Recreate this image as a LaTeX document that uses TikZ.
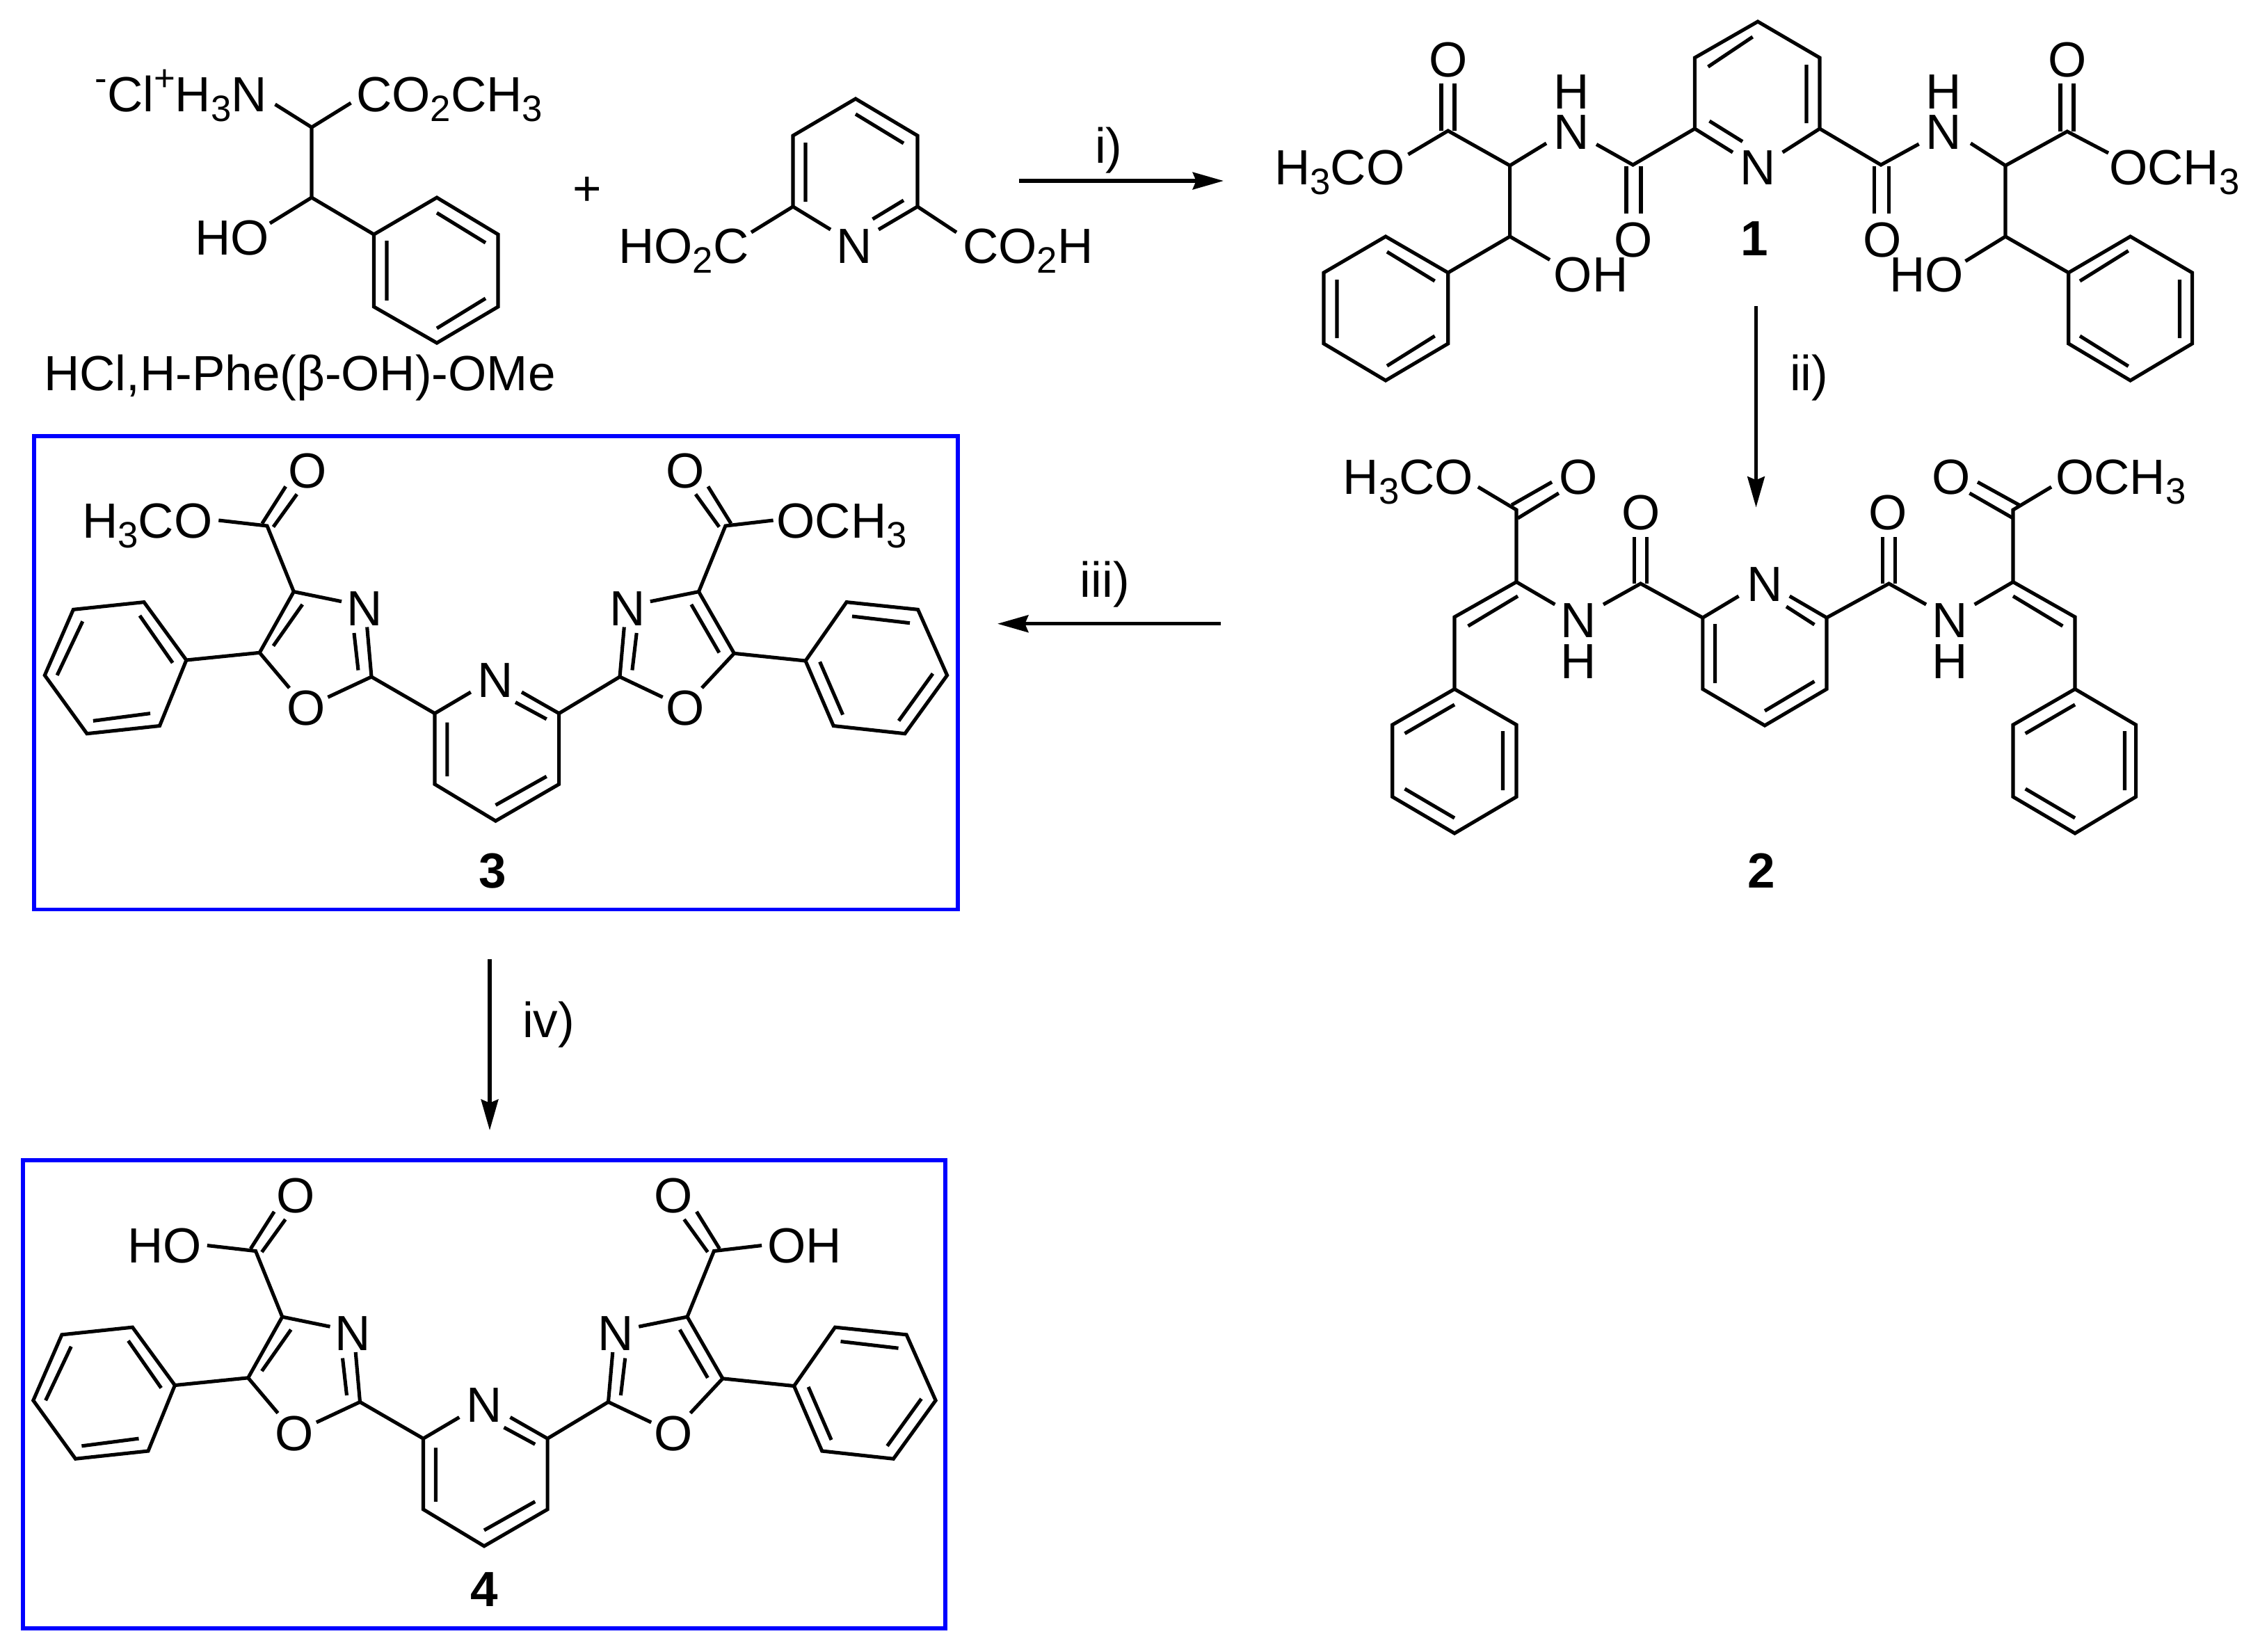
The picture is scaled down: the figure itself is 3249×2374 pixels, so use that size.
\documentclass[tikz,border=0pt]{standalone}
\usepackage{fontspec}
\setmainfont{Liberation Sans}
\usetikzlibrary{arrows.meta}
\newcommand\subn[1]{\raisebox{-0.2em}{\fontsize{15}{15}\selectfont #1}}
\newcommand\supn[1]{\raisebox{0.42em}{\fontsize{15}{15}\selectfont #1}}
\tikzset{
  x=0.01cm,y=-0.01cm,
  bond/.style={line width=1.45pt,line join=miter,line cap=butt},
  rxn/.style={line width=1.5pt,-{Stealth[length=12.6pt,width=7pt,inset=1.4pt]}},
  frame/.style={draw={rgb,255:red,0;green,0;blue,255},line width=1.65pt},
  txt/.style={inner sep=0pt,outer sep=0pt,font=\fontsize{20.2}{22}\selectfont},
  tw/.style={txt,anchor=base west,xshift=-1.1pt},
  tc/.style={txt,anchor=base},
  te/.style={txt,anchor=base east,xshift=1.1pt},
  num/.style={inner sep=0pt,outer sep=0pt,anchor=base,font=\fontsize{20.2}{22}\selectfont\bfseries},
}
% oxazole-pyridine-oxazole core shared by compounds 3 and 4
\newcommand\oxacore[1]{%
  \draw[bond] (491,864.7)--(422.3,850.6)--(373.2,938.3)--(416,989);
  \draw[bond] (527.7,901.5)--(534,973)--(471.4,1002.3);
  \draw[bond] (509,910)--(515,963.5);
  \draw[bond] (434.8,869)--(392.9,928.6);
  \draw[bond] (422.3,850.6)--(384,756)--(314.3,748);
  \draw[bond] (376.8,752.7)--(410.7,699.4) (392.9,757.5)--(426.8,710.5);
  \draw[bond] (373.2,938.3)--(267.9,949);
  \draw[bond] (267.9,949)--(207,865.6)--(105.4,876.3)--(64.3,970.8)--(125,1054.7)--(229.5,1043.5)--cycle;
  \draw[bond] (200.9,885)--(248.2,952.9) (118.8,893.3)--(82.1,970.8) (133.9,1036.3)--(216,1025.6);
  \draw[bond] (534,973)--(625,1025.6);
  \draw[bond] (676.8,995)--(625,1025.6)--(625,1127.4)--(712.5,1180.2)--(803.6,1127.4)--(803.6,1025.6)--(750,995);
  \draw[bond] (741,1009.6)--(785.7,1033.8) (642.9,1038.7)--(642.9,1116.2) (712.5,1157.4)--(785.7,1116.2);
  \draw[bond] (803.6,1025.6)--(891,973);
  \draw[bond] (897.3,901.5)--(891,973)--(952.7,1002.3);
  \draw[bond] (908.9,963.5)--(915.2,910);
  \draw[bond] (934.8,864.7)--(1004.5,850.6)--(1055.4,939.3)--(1009,989);
  \draw[bond] (993.8,869)--(1033.9,938.3);
  \draw[bond] (1004.5,850.6)--(1042.9,756)--(1111.6,748);
  \draw[bond] (1050.9,752.7)--(1017.9,699.4) (1033.9,757.5)--(1000,710.5);
  \draw[bond] (1055.4,939.3)--(1158,950);
  \draw[bond] (1158,950)--(1217,865.6)--(1319.6,876.3)--(1361.6,970.8)--(1300.9,1054.7)--(1198.2,1043.5)--cycle;
  \draw[bond] (1178.6,951.4)--(1211.6,1027.5) (1225,886)--(1308,895.7) (1292,1036.3)--(1341,968.4);
  \node[tc] (#1n1) at (524,899) {N};
  \node[tc] (#1n2) at (901.8,899) {N};
  \node[tc] (#1n3) at (712.5,1002.3) {N};
  \node[tc] (#1o1) at (440,1042.6) {O};
  \node[tc] (#1o2) at (984.8,1042.6) {O};
  \node[tc] (#1o3) at (442,701) {O};
  \node[tc] (#1o4) at (984.8,701) {O};
}
\begin{document}
\begin{tikzpicture}
\useasboundingbox (0,0) rectangle (3249,2374);
% ---------- amino ester
\node[te] (aN) at (380,160) {\supn{-}Cl\supn{+}H\subn{3}N};
\node[tw] (aE) at (516,160) {CO\subn{2}CH\subn{3}};
\node[tw] (aH) at (284,366) {HO};
\node[tw] (aName) at (67,561) {HCl,H-Phe(β-OH)-OMe};
\draw[bond] (395.5,150)--(448,183)--(504.5,148);
\draw[bond] (448,183)--(448,284)--(388,321);
\draw[bond] (448,284)--(537.5,337);
\draw[bond] (537.5,337)--(628,284)--(716,337)--(716,441)--(628,493)--(537.5,441)--cycle;
\draw[bond] (628,306)--(698,349) (556,346)--(556,432) (628,472)--(698,429);
\node[tc] (plus) at (844,295) {+};
% ---------- pyridine diacid
\node[tw] (bL) at (893,378.6) {HO\subn{2}C};
\node[tc] (bN) at (1228,378.6) {N};
\node[tw] (bR) at (1388,378.6) {CO\subn{2}H};
\draw[bond] (1194,330)--(1140,297)--(1140,195)--(1230,142)--(1319,195)--(1319,297)--(1263,330);
\draw[bond] (1140,297)--(1080,334) (1319,297)--(1375,334);
\draw[bond] (1158,205)--(1158,290) (1230,164)--(1299,206) (1254.5,315)--(1299,288);
% ---------- compound 1
\draw[bond] (2491,219)--(2436.4,185)--(2436.4,83)--(2527,31)--(2616,83)--(2616,185)--(2562.6,219);
\draw[bond] (2457.5,174)--(2505,203.5) (2455.5,96)--(2519.6,53) (2597,93)--(2597,177);
\draw[bond] (2436.4,185)--(2347.5,237)--(2295,207.5);
\draw[bond] (2338,239)--(2338,307) (2359,239)--(2359,307);
\draw[bond] (2223,206)--(2170.6,238)--(2081.7,188)--(2024.4,222);
\draw[bond] (2072,188)--(2072,120) (2091,188)--(2091,120);
\draw[bond] (2170.6,238)--(2170.6,340)--(2228,373.5);
\draw[bond] (2170.6,340)--(2081.7,392);
\draw[bond] (2081.7,392)--(1992,340)--(1903,392)--(1903,494)--(1992,547)--(2081.7,494)--cycle;
\draw[bond] (1994,362)--(2062.6,404) (1922,402)--(1922,486) (1994,526)--(2062.6,483);
\draw[bond] (2616,185)--(2704,237)--(2758.6,207);
\draw[bond] (2694.5,239)--(2694.5,307) (2715.6,239)--(2715.6,307);
\draw[bond] (2833,206)--(2883,238)--(2971.8,189)--(3031,220);
\draw[bond] (2962,189)--(2962,120) (2981,189)--(2981,120);
\draw[bond] (2883,238)--(2883,340)--(2825.5,375.5);
\draw[bond] (2883,340)--(2973.7,392);
\draw[bond] (2973.7,392)--(3062.6,340)--(3151.5,392)--(3151.5,494)--(3062.6,547)--(2973.7,494)--cycle;
\draw[bond] (2990,404)--(3059.7,360.5) (3133.4,402)--(3133.4,486) (2990,483)--(3059.7,526.5);
\node[tc] (c1N) at (2527,265.6) {N};
\node[tw] (c1Me1) at (1836,265.6) {H\subn{3}CO};
\node[tw] (c1Me2) at (3036,265.6) {OCH\subn{3}};
\node[tc] (c1O1) at (2081.7,110.7) {O};
\node[tc] (c1O2) at (2971.8,110.7) {O};
\node[tc] (c1O3) at (2348.5,369.6) {O};
\node[tc] (c1O4) at (2706,369.6) {O};
\node[tc] (c1N1) at (2259.5,214.6) {N};
\node[tc] (c1H1) at (2259.5,156) {H};
\node[tc] (c1N2) at (2794,214.6) {N};
\node[tc] (c1H2) at (2794,156) {H};
\node[tw] (c1OH1) at (2237.6,419.8) {OH};
\node[tw] (c1OH2) at (2720,419.8) {HO};
\node[num] (lab1) at (2522.5,367.6) {1};
% ---------- compound 2
\draw[bond] (2124.8,700)--(2180,733)--(2180,836.6)--(2235.4,869);
\draw[bond] (2173,726)--(2231,693) (2182,745)--(2240.8,709);
\draw[bond] (2180,836.6)--(2091,887)--(2091,990.6);
\draw[bond] (2110.5,900)--(2182,857);
\draw[bond] (2091,990.6)--(2001.7,1042)--(2001.7,1145.5)--(2091,1198)--(2180,1145.5)--(2180,1042)--cycle;
\draw[bond] (2019.5,1054.5)--(2091,1013) (2160.5,1051)--(2160.5,1136) (2019.5,1134)--(2091,1176);
\draw[bond] (2305,869)--(2358.6,839)--(2447.8,888);
\draw[bond] (2349.6,839)--(2349.6,772) (2367.5,839)--(2367.5,772);
\draw[bond] (2499.5,857)--(2447.8,888)--(2447.8,990.6)--(2537,1043)--(2626,990.6)--(2626,888)--(2572.7,857);
\draw[bond] (2568,872)--(2608.4,898) (2465.6,897)--(2465.6,982) (2537,1022)--(2608.4,979.5);
\draw[bond] (2626,888)--(2715.5,839)--(2769,869);
\draw[bond] (2706.5,839)--(2706.5,772) (2724.4,839)--(2724.4,772);
\draw[bond] (2838.6,869)--(2894,836.6)--(2983,887)--(2983,990.6);
\draw[bond] (2894,857)--(2965.3,900);
\draw[bond] (2983,990.6)--(3070.5,1042)--(3070.5,1145.5)--(2983,1198)--(2894,1145.5)--(2894,1042)--cycle;
\draw[bond] (2983,1013)--(2911.7,1054.5) (3054.5,1051)--(3054.5,1136) (2911.7,1134)--(2983,1176);
\draw[bond] (2894,836.6)--(2894,733)--(2949,700);
\draw[bond] (2902.8,726)--(2843,693) (2894,745)--(2831.4,709);
\node[tw] (c2Me1) at (1934.8,710.7) {H\subn{3}CO};
\node[tw] (c2Me2) at (2959,710.7) {OCH\subn{3}};
\node[tc] (c2O1) at (2269,710.7) {O};
\node[tc] (c2O2) at (2804.7,710.7) {O};
\node[tc] (c2O3) at (2358.6,761.6) {O};
\node[tc] (c2O4) at (2713.7,761.6) {O};
\node[tc] (c2N) at (2537,864) {N};
\node[tc] (c2N1) at (2269,916) {N};
\node[tc] (c2H1) at (2269,975) {H};
\node[tc] (c2N2) at (2803,916) {N};
\node[tc] (c2H2) at (2803,975) {H};
\node[num] (lab2) at (2532.5,1276) {2};
% ---------- compound 3
\draw[frame] (49,627) rectangle (1376.7,1307.5);
\oxacore{c3}
\node[tw] (c3Me1) at (122,773.5) {H\subn{3}CO};
\node[tw] (c3Me2) at (1120.5,773.5) {OCH\subn{3}};
\node[num] (lab3) at (708,1276) {3};
% ---------- compound 4
\draw[frame] (33,1668) rectangle (1359,2341);
\begin{scope}[shift={(-16.5,1042.5)}]
  \oxacore{c4}
\end{scope}
\node[tw] (c4HO) at (187.5,1815.6) {HO};
\node[tw] (c4OH) at (1107,1815.6) {OH};
\node[num] (lab4) at (696,2309) {4};
% ---------- reaction arrows
\coordinate (i1) at (1465,260);   \coordinate (i2) at (1759,260);
\coordinate (ii1) at (2524.5,440); \coordinate (ii2) at (2524.5,729.5);
\coordinate (iii1) at (1755,896.7); \coordinate (iii2) at (1434,896.7);
\coordinate (iv1) at (704,1379);  \coordinate (iv2) at (704,1625);
\draw[rxn] (i1)--(i2);
\draw[rxn] (ii1)--(ii2);
\draw[rxn] (iii1)--(iii2);
\draw[rxn] (iv1)--(iv2);
\node[tw] (li) at (1578,234) {i)};
\node[tw] (lii) at (2577,561) {ii)};
\node[tw] (liii) at (1556.7,858) {iii)};
\node[tw] (liv) at (755,1491.7) {iv)};
\end{tikzpicture}
\end{document}
